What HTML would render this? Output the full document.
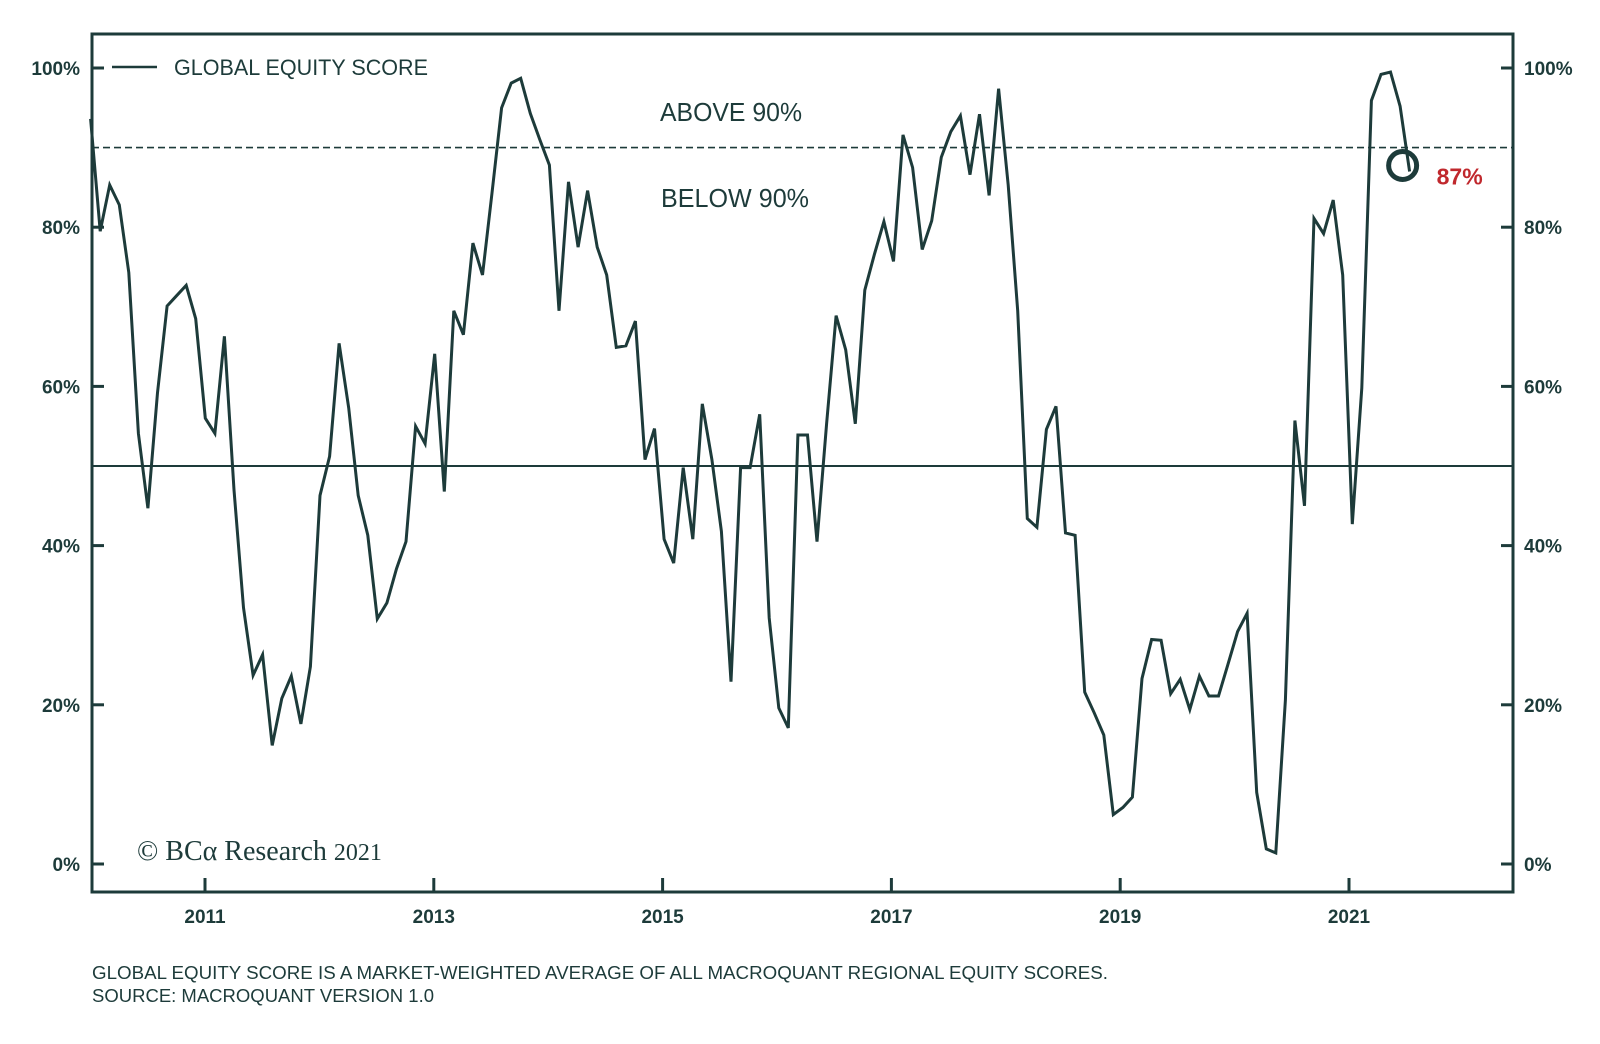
<!DOCTYPE html>
<html><head><meta charset="utf-8"><style>
html,body{margin:0;padding:0;background:#fff;}
svg{display:block;font-family:"Liberation Sans",sans-serif;}
</style></head><body>
<svg id="chart" width="1600" height="1044" viewBox="0 0 1600 1044">
<rect x="92" y="34" width="1421" height="858" fill="none" stroke="#1d3b3a" stroke-width="3"/>
<g id="axes"></g>
<line id="th90" x1="92" x2="1513" stroke="#1d3b3a" stroke-width="1.6" stroke-dasharray="7,4"/>
<line id="mid50" x1="92" x2="1513" stroke="#1d3b3a" stroke-width="2"/>
<path id="series" fill="none" stroke="#1d3b3a" stroke-width="3" stroke-linejoin="miter"/>
<circle id="marker" r="14" fill="none" stroke="#1d3b3a" stroke-width="5"/>
<text id="latestLabel" fill="#c0282d" font-size="23" font-weight="bold">87%</text>
<g>
<line x1="112" x2="157" y1="67" y2="67" stroke="#1d3b3a" stroke-width="2.5"/>
<text x="174" y="75" font-size="22" fill="#1d3b3a" textLength="254" lengthAdjust="spacingAndGlyphs">GLOBAL EQUITY SCORE</text>
</g>
<text x="660" y="121" font-size="26" fill="#1d3b3a" textLength="142" lengthAdjust="spacingAndGlyphs">ABOVE 90%</text>
<text x="661" y="207" font-size="26" fill="#1d3b3a" textLength="148" lengthAdjust="spacingAndGlyphs">BELOW 90%</text>
<text x="137" y="860" font-family="Liberation Serif,serif" font-size="28" fill="#1d3b3a">© BCα Research <tspan font-size="24">2021</tspan></text>
<text x="92" y="979" font-size="18" fill="#1d3b3a" textLength="1016" lengthAdjust="spacingAndGlyphs">GLOBAL EQUITY SCORE IS A MARKET-WEIGHTED AVERAGE OF ALL MACROQUANT REGIONAL EQUITY SCORES.</text>
<text x="92" y="1002" font-size="18" fill="#1d3b3a" textLength="342" lengthAdjust="spacingAndGlyphs">SOURCE: MACROQUANT VERSION 1.0</text>
</svg>
<script>
const yTicks = [0, 20, 40, 60, 80, 100];
const xTickYears = [2011, 2013, 2015, 2017, 2019, 2021];
const startYear = 2010.0;
const endYear = 2021.53;
const threshold = 90;
const midline = 50;
const values = [93.6,79.5,85.3,82.8,74.3,54.1,44.7,59.2,70.1,71.4,72.7,68.5,56.0,54.1,66.3,47.0,32.2,23.7,26.3,14.9,20.8,23.6,17.6,24.8,46.3,51.2,65.4,57.3,46.3,41.3,30.8,32.8,37.1,40.5,55.0,52.8,64.1,46.8,69.5,66.5,78.0,74.0,84.3,95.0,98.1,98.7,94.3,91.0,87.8,69.5,85.7,77.5,84.6,77.5,74.0,64.9,65.1,68.2,50.8,54.7,40.8,37.8,49.8,40.8,57.8,50.8,41.8,22.9,49.8,49.8,56.5,30.9,19.6,17.1,53.9,53.9,40.5,55.3,68.9,64.6,55.3,72.1,76.6,80.7,75.7,91.6,87.5,77.2,80.8,88.8,92.0,94.0,86.6,94.2,84.0,97.4,85.3,69.5,43.4,42.3,54.6,57.5,41.6,41.3,21.6,19.0,16.2,6.2,7.1,8.4,23.3,28.2,28.1,21.4,23.2,19.4,23.6,21.1,21.1,25.1,29.2,31.5,9.0,1.9,1.4,20.6,55.7,45.0,81.1,79.2,83.4,74.0,42.7,59.8,95.9,99.2,99.5,95.2,87.0];

const NS = 'http://www.w3.org/2000/svg';
function xScale(yr){ return 90.6 + (yr - 2010) * 114.4; }
function yScale(v){ return 864 - v * 7.96; }
const axes = document.getElementById('axes');
function mk(tag, attrs, txt){
  const e = document.createElementNS(NS, tag);
  for (const k in attrs) e.setAttribute(k, attrs[k]);
  if (txt !== undefined) e.textContent = txt;
  axes.appendChild(e);
  return e;
}
yTicks.forEach(t => {
  const y = yScale(t);
  const a = mk('line', {x1:92, x2:104, y1:y, y2:y, stroke:'#1d3b3a', 'stroke-width':3});
  
  
  const b = mk('line', {x1:1501, x2:1513, y1:y, y2:y, stroke:'#1d3b3a', 'stroke-width':3});
  
  
  const l = mk('text', {x:80, y:y+7, 'text-anchor':'end', 'font-size':19, 'font-weight':'bold', fill:'#1d3b3a'}, t + '%');
  
  
  const r = mk('text', {x:1524, y:y+7, 'font-size':19, 'font-weight':'bold', fill:'#1d3b3a'}, t + '%');
  
  
});
xTickYears.forEach(yr => {
  const x = xScale(yr);
  const t = mk('line', {x1:x, x2:x, y1:878, y2:892, stroke:'#1d3b3a', 'stroke-width':3});
  
  
  const l = mk('text', {x:x, y:923, 'text-anchor':'middle', 'font-size':19, 'font-weight':'bold', fill:'#1d3b3a'}, String(yr));
  
  
});
const th = document.getElementById('th90');
th.setAttribute('y1', yScale(threshold)); th.setAttribute('y2', yScale(threshold));
const md = document.getElementById('mid50');
md.setAttribute('y1', yScale(midline)); md.setAttribute('y2', yScale(midline));
const step = (endYear - startYear) / (values.length - 1);
let d = '';
values.forEach((v, i) => {
  d += (i ? 'L' : 'M') + xScale(startYear + i * step).toFixed(1) + ',' + yScale(v).toFixed(1);
});
document.getElementById('series').setAttribute('d', d);
const last = values[values.length - 1];
const lx = xScale(endYear) - 7, ly = yScale(last) - 6;
const mkr = document.getElementById('marker');
mkr.setAttribute('cx', lx); mkr.setAttribute('cy', ly);
const lab = document.getElementById('latestLabel');
lab.setAttribute('x', lx + 34); lab.setAttribute('y', ly + 19);
lab.textContent = Math.round(last) + '%';
</script>
</body></html>
